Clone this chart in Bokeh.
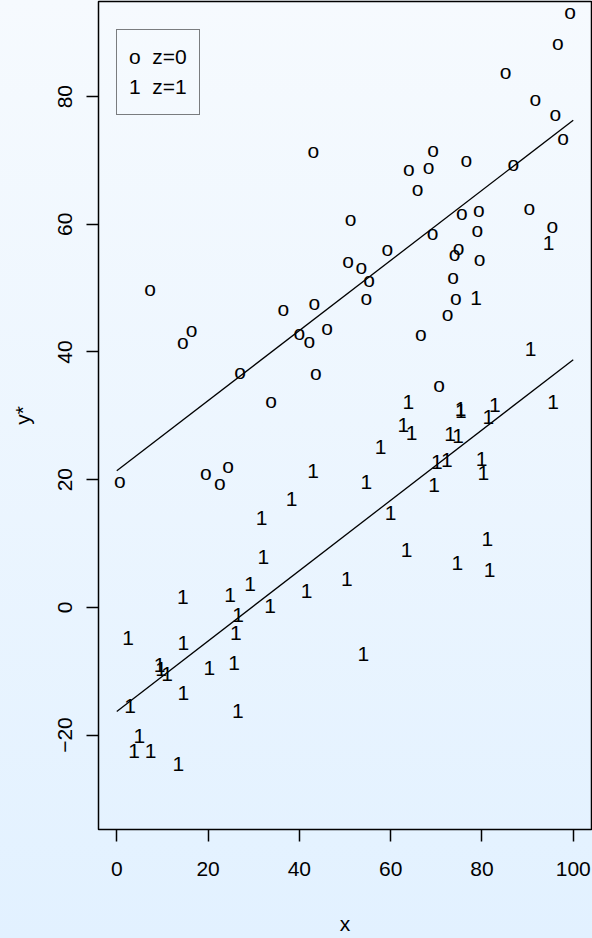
from bokeh.plotting import figure
from bokeh.models import (Range1d, FixedTicker, Legend, LegendItem,
                          ColumnDataSource, GlobalInlineStyleSheet)
from bokeh.core.properties import value
from bokeh.embed import file_html
from bokeh.resources import INLINE

# ---------------- data ----------------
x_z0 = [0.7, 7.3, 14.45, 16.4, 19.5, 22.6, 24.4, 27.0, 33.8, 36.5,
        40.0, 42.2, 43.05, 43.3, 43.6, 46.1, 50.7, 51.2, 53.6, 54.7,
        55.3, 59.25, 64.0, 65.9, 66.6, 68.3, 69.3, 69.2, 70.6, 72.5,
        73.7, 74.0, 74.3, 74.9, 75.6, 76.6, 79.0, 79.3, 79.5, 85.2,
        86.9, 90.4, 91.7, 95.4, 96.1, 96.6, 97.8, 99.3]
y_z0 = [19.6, 49.7, 41.4, 43.3, 20.9, 19.3, 22.0, 36.7, 32.1, 46.5,
        42.8, 41.5, 71.2, 47.5, 36.5, 43.6, 54.1, 60.6, 53.1, 48.2,
        51.1, 56.0, 68.5, 65.4, 42.6, 68.7, 71.5, 58.5, 34.7, 45.7,
        51.6, 55.1, 48.3, 56.1, 61.5, 69.9, 58.9, 62.1, 54.3, 83.7,
        69.3, 62.3, 79.4, 59.6, 77.0, 88.2, 73.3, 93.0]

x_z1 = [2.5, 2.9, 3.8, 4.95, 7.4, 9.4, 9.7, 11.0, 13.5, 14.45,
        14.6, 14.6, 20.3, 24.8, 25.7, 26.1, 26.5, 26.6, 29.2, 31.75,
        32.1, 33.6, 38.3, 41.6, 43.0, 50.4, 54.0, 54.7, 57.8, 60.0,
        62.8, 63.5, 63.9, 64.6, 69.5, 70.1, 72.3, 73.0, 74.6, 74.8,
        75.3, 75.4, 78.7, 79.9, 80.3, 81.2, 81.4, 81.7, 82.8, 90.65,
        94.6, 95.6]
y_z1 = [-4.8, -15.5, -22.5, -20.2, -22.5, -9.0, -9.6, -10.4, -24.6, 1.6,
        -5.6, -13.4, -9.5, 1.9, -8.7, -4.0, -16.3, -1.25, 3.65, 14.0,
        7.9, 0.27, 17.0, 2.6, 21.4, 4.5, -7.3, 19.7, 25.1, 14.8,
        28.5, 9.0, 32.1, 27.3, 19.1, 22.8, 23.1, 27.1, 7.0, 26.8,
        31.0, 30.8, 48.5, 23.3, 21.0, 10.75, 29.8, 5.9, 31.7, 40.5,
        57.0, 32.1]

fit_x = [0, 100]
fit_y_z0 = [21.4, 76.3]
fit_y_z1 = [-16.3, 38.8]

x_ticks = [0, 20, 40, 60, 80, 100]
x_tick_labels = ["0", "20", "40", "60", "80", "100"]
y_ticks = [-20, 0, 20, 40, 60, 80]
y_tick_labels = ["\u221220", "0", "20", "40", "60", "80"]
legend_labels = ["o  z=0", "1  z=1"]
symbols = ["o", "1"]

FONT = "Liberation Sans"
FS = "21px"

W, H = 592, 938
B_LEFT, B_RIGHT, B_TOP, B_BOTTOM = 98, 1, 1, 109
FRAME_H = H - B_TOP - B_BOTTOM

p = figure(width=W, height=H,
           x_range=Range1d(-4, 104), y_range=Range1d(-34.8, 94.9),
           output_backend="svg", toolbar_location=None,
           min_border_left=B_LEFT, min_border_right=B_RIGHT,
           min_border_top=B_TOP, min_border_bottom=B_BOTTOM,
           background_fill_color=None, border_fill_color=None,
           outline_line_color="black", outline_line_width=1.5)
p.grid.visible = False

p.stylesheets = [GlobalInlineStyleSheet(css=
    "html{min-height:100%;}"
    "body{background:linear-gradient(to bottom,#F6FAFE 0%,#E2F1FF 100%);}")]

for ax, ticks, labels in ((p.xaxis[0], x_ticks, x_tick_labels),
                          (p.yaxis[0], y_ticks, y_tick_labels)):
    ax.ticker = FixedTicker(ticks=ticks, minor_ticks=[])
    ax.major_label_overrides = dict(zip(ticks, labels))
    ax.axis_line_color = None
    ax.major_tick_in = 0
    ax.major_tick_out = 12
    ax.major_tick_line_width = 1.5
    ax.major_tick_line_color = "black"
    ax.minor_tick_line_color = None
    ax.major_label_text_font = FONT
    ax.major_label_text_font_size = FS
    ax.major_label_text_color = "black"
    ax.axis_label_text_font = FONT
    ax.axis_label_text_font_size = FS
    ax.axis_label_text_font_style = "normal"
    ax.axis_label_text_color = "black"

p.xaxis.axis_label = "x"
p.xaxis.major_label_standoff = 20
p.xaxis.axis_label_standoff = 33
p.yaxis.axis_label = "y*"
p.yaxis.major_label_orientation = "vertical"
p.yaxis.major_label_standoff = 14
p.yaxis.axis_label_standoff = 22

# fitted lines
p.line(fit_x, fit_y_z0, line_color="black", line_width=1.3)
p.line(fit_x, fit_y_z1, line_color="black", line_width=1.3)

# points as characters (offsets centre the glyph ink on the point)
src0 = ColumnDataSource(dict(x=x_z0, y=y_z0, t=[symbols[0]] * len(x_z0)))
src1 = ColumnDataSource(dict(x=x_z1, y=y_z1, t=[symbols[1]] * len(x_z1)))
r0 = p.text(x="x", y="y", text="t", source=src0, text_font=value(FONT),
            text_font_size=FS, text_color="black", text_align="center",
            text_baseline="alphabetic", y_offset=-1.8)
r1 = p.text(x="x", y="y", text="t", source=src1, text_font=value(FONT),
            text_font_size=FS, text_color="black", text_align="center",
            text_baseline="alphabetic", y_offset=0.0)

PAD, ROW = 12, 30
LEG_H = 2 * PAD + 2 * ROW
legend = Legend(items=[LegendItem(label=legend_labels[0], renderers=[r0]),
                       LegendItem(label=legend_labels[1], renderers=[r1])],
                location=(18, FRAME_H - 30 - LEG_H), margin=0, padding=PAD,
                glyph_width=0, glyph_height=ROW, label_height=ROW,
                label_standoff=0, spacing=0,
                label_text_font=FONT, label_text_font_size=FS,
                label_text_color="black",
                border_line_color="black", border_line_width=1.5,
                background_fill_alpha=0)
p.add_layout(legend)

open("out.html", "w").write(file_html(p, INLINE))
